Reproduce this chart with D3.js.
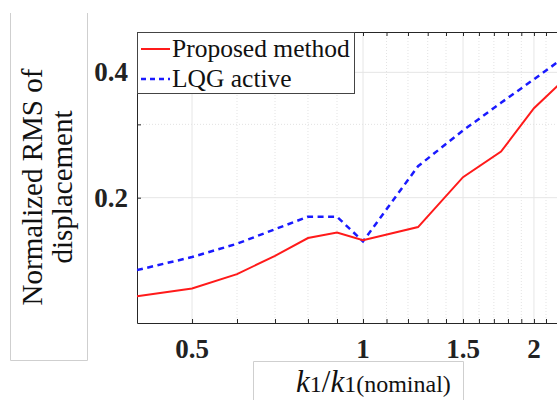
<!DOCTYPE html>
<html>
<head>
<meta charset="utf-8">
<script src="https://cdn.jsdelivr.net/npm/d3@7"></script>
<style>
html,body{margin:0;padding:0;background:#fff;}
svg{display:block;}
svg text{font-family:"Liberation Serif","Times New Roman",Times,"DejaVu Serif",serif;}
</style>
</head>
<body>
<svg id="chart" width="557" height="400"></svg>
<script>
// ---- data ----
const ratios = [0.4, 0.5, 0.6, 0.7, 0.8, 0.9, 1.0, 1.25, 1.5, 1.75, 2.0, 2.5];
const proposed = [0.116, 0.121, 0.131, 0.145, 0.160, 0.165, 0.158, 0.170, 0.224, 0.258, 0.328, 0.438];
const lqg = [0.134, 0.144, 0.155, 0.168, 0.180, 0.180, 0.157, 0.238, 0.290, 0.338, 0.385, 0.480];
const xTickValues = [0.5, 1, 1.5, 2];
const xTickLabels = ["0.5", "1", "1.5", "2"];
const xMinorGrid = [0.5,0.6,0.7,0.8,0.9,1.0,1.1,1.2,1.3,1.4,1.5,1.6,1.7,1.8,1.9,2.0,2.1,2.2,2.3,2.4];
const yTickValues = [0.2, 0.4];
const yTickLabels = ["0.2", "0.4"];
const yMinorGrid = [0.2, 0.3, 0.4];
const seriesNames = ["Proposed method", "LQG active"];

(function(){
const svg = d3.select("#chart");
const axisColor = "#262626";

const pL = 137, pT = 32, pB = 323, pREnd = 589;
const x = d3.scaleLog().domain([0.4, 2.5]).range([pL, pREnd]);
const y = d3.scaleLog().domain([0.1, 0.5]).range([pB, pT]);

// title boxes
const boxStroke = "#cfcfcf";
svg.append("path").attr("d", "M10.5,13 V360.5 H87.5 V13").attr("fill","none").attr("stroke", boxStroke);
svg.append("path").attr("d", "M253.5,400 V361.5 H463.5 V400").attr("fill","none").attr("stroke", boxStroke);

// grid
const g = svg.append("g");
g.selectAll(".xminor").data(xMinorGrid.filter(v => !xTickValues.includes(v))).enter().append("line")
  .attr("x1", d => x(d)).attr("x2", d => x(d)).attr("y1", pT).attr("y2", pB)
  .attr("stroke", "#e3e3e3").attr("stroke-dasharray", "1,2");
g.selectAll(".xmajor").data(xTickValues).enter().append("line")
  .attr("x1", d => x(d)).attr("x2", d => x(d)).attr("y1", pT).attr("y2", pB)
  .attr("stroke", "#e6e6e6");
g.selectAll(".yminor").data(yMinorGrid.filter(v => !yTickValues.includes(v))).enter().append("line")
  .attr("x1", pL).attr("x2", 557).attr("y1", d => y(d)).attr("y2", d => y(d))
  .attr("stroke", "#e3e3e3").attr("stroke-dasharray", "1,2");
g.selectAll(".ymajor").data(yTickValues).enter().append("line")
  .attr("x1", pL).attr("x2", 557).attr("y1", d => y(d)).attr("y2", d => y(d))
  .attr("stroke", "#e6e6e6");

// axes ticks (inward)
const xAxisB = d3.axisBottom(x).tickValues(xMinorGrid).tickSize(-4).tickFormat("");
svg.append("g").attr("transform", `translate(0,${pB})`).call(xAxisB)
  .call(s => { s.select(".domain").remove(); s.selectAll("line").attr("stroke", axisColor); });
const xAxisT = d3.axisTop(x).tickValues(xMinorGrid).tickSize(-4).tickFormat("");
svg.append("g").attr("transform", `translate(0,${pT})`).call(xAxisT)
  .call(s => { s.select(".domain").remove(); s.selectAll("line").attr("stroke", axisColor); });
const yAxisL = d3.axisLeft(y).tickValues(yMinorGrid).tickSize(-4).tickFormat("");
svg.append("g").attr("transform", `translate(${pL},0)`).call(yAxisL)
  .call(s => { s.select(".domain").remove(); s.selectAll("line").attr("stroke", axisColor); });

// frame
svg.append("path").attr("d", `M557,${pT+0.5} H${pL+0.5} V${pB+0.5} H557`)
  .attr("fill","none").attr("stroke", axisColor).attr("stroke-width", 1);

// tick labels
svg.selectAll(".xlab").data(xTickValues).enter().append("text")
  .attr("x", d => x(d)).attr("y", 358).attr("text-anchor","middle")
  .attr("font-weight","bold").attr("font-size", 27)
  .attr("fill", "#222").text((d,i) => xTickLabels[i]);
svg.selectAll(".ylab").data(yTickValues).enter().append("text")
  .attr("x", pL - 9).attr("y", d => y(d) + 9).attr("text-anchor","end")
  .attr("font-weight","bold").attr("font-size", 27)
  .attr("fill", "#222").text((d,i) => yTickLabels[i]);

// lines
svg.append("clipPath").attr("id","pc").append("rect")
  .attr("x", pL).attr("y", pT).attr("width", pREnd-pL).attr("height", pB-pT);
const line = d3.line().x(d => x(d[0])).y(d => y(d[1]));
svg.append("path").datum(ratios.map((r,i)=>[r, lqg[i]])).attr("clip-path","url(#pc)")
  .attr("d", line).attr("fill","none").attr("stroke","#1a1aff").attr("stroke-width",2.5)
  .attr("stroke-dasharray","6,4.5");
svg.append("path").datum(ratios.map((r,i)=>[r, proposed[i]])).attr("clip-path","url(#pc)")
  .attr("d", line).attr("fill","none").attr("stroke","#ff1a1a").attr("stroke-width",2);

// legend
const lg = svg.append("g");
lg.append("rect").attr("x", pL+0.5).attr("y", pT+0.5).attr("width", 217).attr("height", 61)
  .attr("fill","#fff").attr("stroke","#444");
const legendItems = [
  {name: seriesNames[0], color: "#ff1a1a", dash: null, w: 2, yy: 49},
  {name: seriesNames[1], color: "#1a1aff", dash: "5,4", w: 2.5, yy: 79}
];
legendItems.forEach(it => {
  lg.append("line").attr("x1", 141).attr("x2", 170).attr("y1", it.yy).attr("y2", it.yy)
    .attr("stroke", it.color).attr("stroke-width", it.w).attr("stroke-dasharray", it.dash);
  lg.append("text").attr("x", 172).attr("y", it.yy + 8)
    .attr("font-size", 25.5).attr("fill","#111").text(it.name);
});

// y title
const yt = svg.append("text").attr("transform", "translate(0,187) rotate(-90)")
  .attr("text-anchor","middle").attr("font-size", 29).attr("fill","#111");
yt.append("tspan").attr("x", 0).attr("y", 42).text("Normalized RMS of");
yt.append("tspan").attr("x", 0).attr("y", 72).text("displacement");

// x title
const xt = svg.append("text").attr("x", 296).attr("y", 392).attr("fill","#111");
xt.append("tspan").attr("font-style","italic").attr("font-size", 31).text("k");
xt.append("tspan").attr("font-size", 24).text("1");
xt.append("tspan").attr("font-size", 31).text("/");
xt.append("tspan").attr("font-style","italic").attr("font-size", 31).text("k");
xt.append("tspan").attr("font-size", 24).text("1(nominal)");
})();
</script>
</body>
</html>
